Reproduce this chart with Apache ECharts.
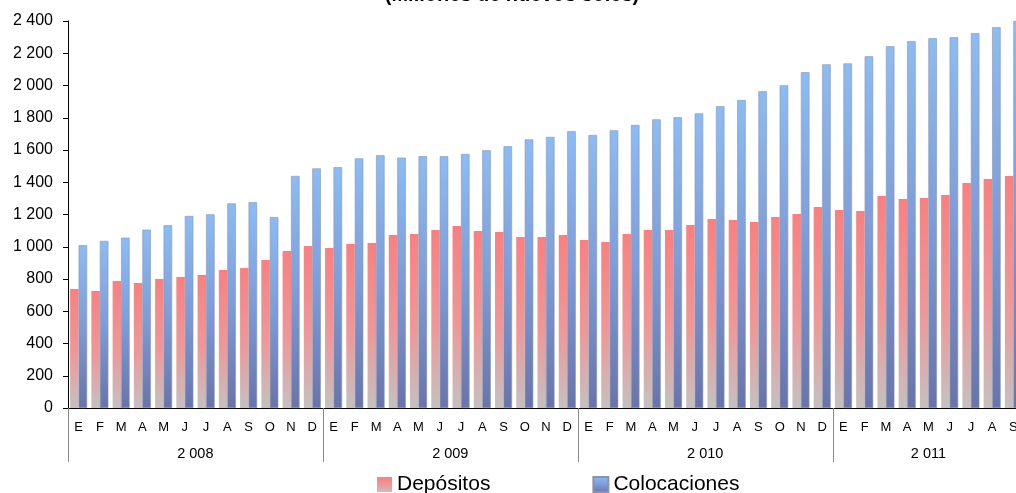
<!DOCTYPE html>
<html>
<head>
<meta charset="utf-8">
<script src="https://cdn.jsdelivr.net/npm/echarts@6/dist/echarts.min.js"></script>
<style>
  html, body { margin: 0; padding: 0; background: #fff; overflow: hidden; }
  /* el gráfico original queda cortado a la derecha */
  #main { width: 1024px; height: 493px; }
</style>
</head>
<body>
<div id="main"></div>
<script>
// meses (2008 - sep 2011)
var monthLetters = ['E', 'F', 'M', 'A', 'M', 'J', 'J', 'A', 'S', 'O', 'N', 'D']
var years = ['2 008', '2 009', '2 010', '2 011']
var months = []
for (var y = 0; y < 3; y++) months = months.concat(monthLetters)
months = months.concat(monthLetters.slice(0, 9))

var depositos = [
  738, 726, 788, 775, 800, 812, 825, 856, 868, 918, 974, 1005,
  992, 1017, 1023, 1073, 1079, 1104, 1129, 1098, 1091, 1060, 1060, 1073,
  1042, 1029, 1079, 1104, 1104, 1135, 1172, 1166, 1153, 1184, 1203, 1246,
  1228, 1222, 1315, 1296, 1302, 1321, 1395, 1420, 1439
]
var colocaciones = [
  1009, 1036, 1056, 1106, 1133, 1191, 1201, 1269, 1276, 1183, 1439, 1486,
  1493, 1548, 1567, 1553, 1561, 1561, 1575, 1598, 1623, 1666, 1681, 1716,
  1693, 1722, 1755, 1790, 1803, 1827, 1871, 1910, 1964, 2001, 2082, 2131,
  2137, 2181, 2243, 2274, 2293, 2299, 2324, 2361, 2400
]

var yearCats = months.map(function (m, i) { return years[Math.floor(i / 12)] })

function fmt(v) {
  if (v >= 1000) {
    var s = String(v)
    return s.slice(0, s.length - 3) + ' ' + s.slice(-3)
  }
  return String(v)
}

var redGrad = new echarts.graphic.LinearGradient(0, 0, 0, 1, [
  { offset: 0, color: '#F98080' },
  { offset: 0.55, color: '#EE9898' },
  { offset: 1, color: '#C6C0C0' }
])
var blueGrad = new echarts.graphic.LinearGradient(0, 0, 0, 1, [
  { offset: 0, color: '#8CBCF4' },
  { offset: 0.5, color: '#7E9CD8' },
  { offset: 1, color: '#6874AA' }
])

var myChart = echarts.init(document.getElementById('main'))

var option = {
  animation: false,
  title: {
    text: '(Millones de nuevos soles)',
    left: 'center',
    top: -20,
    textStyle: { fontFamily: 'Liberation Sans', fontSize: 20, fontWeight: 'bold', color: '#000' }
  },
  legend: {
    data: ['Depósitos', 'Colocaciones'],
    icon: 'rect',
    left: 372,
    top: 469,
    itemWidth: 15,
    itemHeight: 15,
    itemGap: 102,
    textStyle: { fontFamily: 'Liberation Sans', fontSize: 21, color: '#000' }
  },
  grid: { left: 68, right: 0, top: 21, bottom: 85 },
  xAxis: [
    {
      type: 'category',
      data: months,
      axisLine: { lineStyle: { color: '#000', width: 1 } },
      axisTick: { show: false },
      axisLabel: { interval: 0, margin: 13, color: '#000', fontFamily: 'Liberation Sans', fontSize: 13 }
    },
    {
      type: 'category',
      data: yearCats,
      position: 'bottom',
      axisLine: { show: false },
      axisTick: {
        show: true,
        length: 54,
        interval: function (i) { return i % 12 === 0 },
        lineStyle: { color: '#888', width: 1 }
      },
      axisLabel: {
        interval: function (i) { return i === 5 || i === 17 || i === 29 || i === 40 },
        margin: 38,
        formatter: function (v, i) { return i === 40 ? '{b|' + v + '}' : '{a|' + v + '}' },
        rich: {
          a: { padding: [0, 0, 0, 21], color: '#000', fontFamily: 'Liberation Sans', fontSize: 14.5 },
          b: { color: '#000', fontFamily: 'Liberation Sans', fontSize: 14.5 }
        }
      }
    }
  ],
  yAxis: {
    type: 'value',
    min: 0,
    max: 2400,
    interval: 200,
    axisLine: { show: true, lineStyle: { color: '#000', width: 1 } },
    axisTick: { show: true, length: 5, lineStyle: { color: '#000' } },
    splitLine: { show: false },
    axisLabel: { margin: 15, color: '#000', fontFamily: 'Liberation Sans', fontSize: 16, formatter: fmt }
  },
  series: [
    {
      name: 'Depósitos',
      type: 'bar',
      data: depositos,
      barGap: '0%',
      barCategoryGap: '20%',
      itemStyle: { color: redGrad }
    },
    {
      name: 'Colocaciones',
      type: 'bar',
      data: colocaciones,
      barGap: '0%',
      barCategoryGap: '20%',
      itemStyle: { color: blueGrad, borderColor: '#8894AC', borderWidth: 0.6 }
    }
  ]
}

myChart.setOption(option)
</script>
</body>
</html>
